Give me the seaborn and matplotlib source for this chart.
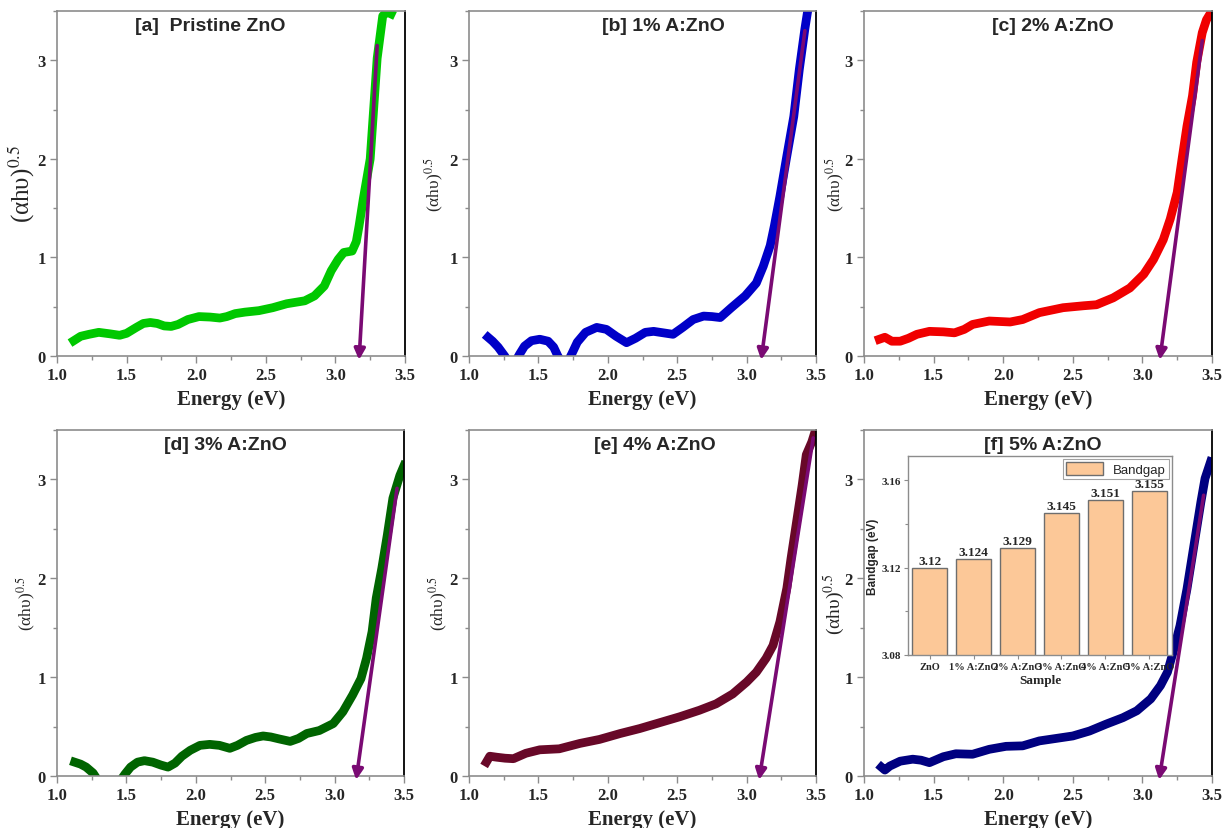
import numpy as np
import pandas as pd
import matplotlib
matplotlib.use("Agg")
import matplotlib.pyplot as plt
import seaborn as sns
from matplotlib.ticker import MultipleLocator

# ---------------- data ----------------
energy_a = [1.12, 1.17, 1.23, 1.3, 1.38, 1.45, 1.5, 1.57, 1.62, 1.67, 1.72, 1.77, 1.82, 1.87,
            1.94, 2.02, 2.1, 2.17, 2.22, 2.28, 2.35, 2.45, 2.55, 2.65, 2.78, 2.85, 2.92, 2.97,
            3.02, 3.06, 3.12, 3.15, 3.17, 3.2, 3.25, 3.3, 3.34, 3.37, 3.4]
tauc_a = [0.155, 0.2, 0.22, 0.24, 0.225, 0.21, 0.23, 0.29, 0.33, 0.34, 0.33, 0.305, 0.30, 0.32,
          0.37, 0.40, 0.395, 0.385, 0.40, 0.43, 0.445, 0.46, 0.49, 0.53, 0.56, 0.61, 0.71, 0.865,
          0.98, 1.05, 1.065, 1.16, 1.32, 1.59, 2.0, 3.02, 3.45, 3.49, 3.47]

energy_b = [1.137, 1.17, 1.21, 1.257, 1.31, 1.365, 1.40, 1.45, 1.51, 1.57, 1.61, 1.64, 1.69,
            1.74, 1.78, 1.84, 1.92, 1.99, 2.06, 2.135, 2.2, 2.27, 2.33, 2.4, 2.47, 2.54, 2.615,
            2.69, 2.75, 2.81, 2.85, 2.89, 2.99, 3.07, 3.12, 3.17, 3.2, 3.24, 3.29, 3.34, 3.38,
            3.42, 3.44]
tauc_b = [0.19, 0.15, 0.09, 0.0, -0.12, 0.02, 0.10, 0.155, 0.17, 0.15, 0.09, 0.0, -0.12,
          0.02, 0.14, 0.24, 0.29, 0.27, 0.20, 0.135, 0.18, 0.24, 0.25, 0.235, 0.22, 0.29, 0.37,
          0.405, 0.40, 0.39, 0.44, 0.49, 0.61, 0.74, 0.91, 1.12, 1.32, 1.62, 2.03, 2.43, 2.91,
          3.32, 3.5]

energy_c = [1.11, 1.15, 1.2, 1.26, 1.32, 1.38, 1.47, 1.57, 1.65, 1.72, 1.78, 1.9, 2.05, 2.14,
            2.26, 2.43, 2.58, 2.67, 2.79, 2.91, 3.01, 3.08, 3.15, 3.2, 3.25, 3.285, 3.32, 3.36,
            3.39, 3.43, 3.46, 3.49]
tauc_c = [0.17, 0.19, 0.15, 0.15, 0.18, 0.22, 0.25, 0.245, 0.235, 0.27, 0.32, 0.355, 0.345, 0.37,
          0.44, 0.49, 0.51, 0.52, 0.59, 0.69, 0.83, 0.98, 1.18, 1.39, 1.66, 2.0, 2.33, 2.64,
          2.98, 3.28, 3.41, 3.48]

energy_d = [1.127, 1.17, 1.21, 1.26, 1.32, 1.4, 1.45, 1.49, 1.53, 1.58, 1.63, 1.69, 1.75, 1.8,
            1.85, 1.9, 1.96, 2.03, 2.1, 2.17, 2.245, 2.3, 2.365, 2.43, 2.485, 2.54, 2.6, 2.68,
            2.74, 2.8, 2.89, 2.99, 3.06, 3.13, 3.19, 3.23, 3.27, 3.3, 3.34, 3.38, 3.42, 3.47, 3.5]
tauc_d = [0.14, 0.12, 0.09, 0.03, -0.1, -0.12, -0.06, 0.02, 0.09, 0.14, 0.155, 0.14, 0.11, 0.09,
          0.13, 0.20, 0.26, 0.31, 0.32, 0.31, 0.28, 0.31, 0.36, 0.39, 0.405, 0.395, 0.375, 0.35,
          0.38, 0.43, 0.46, 0.53, 0.65, 0.82, 0.985, 1.19, 1.46, 1.80, 2.10, 2.44, 2.81, 3.04,
          3.14]

energy_e = [1.125, 1.15, 1.2, 1.26, 1.32, 1.41, 1.51, 1.65, 1.8, 1.94, 2.09, 2.23, 2.375, 2.52,
            2.66, 2.78, 2.9, 3.0, 3.07, 3.14, 3.19, 3.24, 3.29, 3.32, 3.36, 3.4, 3.43, 3.47, 3.49]
tauc_e = [0.14, 0.2, 0.19, 0.18, 0.175, 0.23, 0.265, 0.275, 0.33, 0.37, 0.43, 0.48, 0.54, 0.60,
          0.665, 0.73, 0.83, 0.95, 1.05, 1.19, 1.32, 1.56, 1.90, 2.2, 2.57, 2.94, 3.25, 3.38, 3.47]

energy_f = [1.125, 1.15, 1.185, 1.26, 1.35, 1.41, 1.47, 1.57, 1.66, 1.78, 1.9, 2.02, 2.14, 2.26,
            2.38, 2.5, 2.62, 2.74, 2.86, 2.96, 3.06, 3.13, 3.18, 3.22, 3.27, 3.32, 3.37, 3.42,
            3.45, 3.49]
tauc_f = [0.09, 0.06, 0.1, 0.15, 0.17, 0.16, 0.135, 0.195, 0.225, 0.22, 0.27, 0.30, 0.305, 0.355,
          0.38, 0.405, 0.455, 0.525, 0.59, 0.66, 0.78, 0.915, 1.05, 1.25, 1.52, 1.89, 2.33, 2.77,
          3.01, 3.18]

# tangent (extrapolation) lines: upper point and x-intercept
tangent_top_x = [3.30, 3.42, 3.43, 3.45, 3.48, 3.44]
tangent_top_y = [3.15, 3.30, 3.20, 2.91, 3.42, 2.84]
tangent_end_x = [3.17, 3.105, 3.125, 3.155, 3.09, 3.12]
tangent_end_y = [-0.04, -0.04, -0.04, -0.04, -0.04, -0.04]

titles = ["[a]  Pristine ZnO", "[b] 1% A:ZnO", "[c] 2% A:ZnO",
          "[d] 3% A:ZnO", "[e] 4% A:ZnO", "[f] 5% A:ZnO"]
x_ticks = [1.0, 1.5, 2.0, 2.5, 3.0, 3.5]
y_ticks = [0, 1, 2, 3]

# inset data
samples = ["ZnO", "1% A:ZnO", "2% A:ZnO", "3% A:ZnO", "4% A:ZnO", "5% A:ZnO"]
bandgap = [3.12, 3.124, 3.129, 3.145, 3.151, 3.155]
inset_ticks = [3.08, 3.12, 3.16]

# ---------------- style ----------------
sns.set_style("ticks")
plt.rcParams["font.family"] = ["Liberation Serif", "DejaVu Serif"]
plt.rcParams["mathtext.fontset"] = "stix"

W, H = 1226, 829
fig = plt.figure(figsize=(W / 100, H / 100), dpi=100)
fig.patch.set_facecolor("white")

boxes = [(57, 405, 12, 357), (469, 816, 12, 357), (864, 1212, 12, 357),
         (57, 404, 431, 777), (469, 816, 431, 777), (864, 1212, 431, 777)]
colors = ["#00c800", "#0000c8", "#f00000", "#006400", "#680828", "#000080"]
title_x = [0.44, 0.56, 0.543, 0.484, 0.536, 0.514]
ylab_x = [-0.058, -0.066, -0.05, -0.056, -0.056, -0.05]
ylab_size = [18, 12.5, 12.5, 12.5, 12.5, 14]
purple = "#7a0a73"
gray = "#8c8c8c"

energies = [energy_a, energy_b, energy_c, energy_d, energy_e, energy_f]
taucs = [tauc_a, tauc_b, tauc_c, tauc_d, tauc_e, tauc_f]

for i, (l, r, t, b) in enumerate(boxes):
    ax = fig.add_axes([l / W, 1 - b / H, (r - l) / W, (b - t) / H])
    df = pd.DataFrame({"E": energies[i], "T": taucs[i]})
    sns.lineplot(data=df, x="E", y="T", ax=ax, color=colors[i], linewidth=6.3,
                 sort=False, estimator=None, legend=False,
                 solid_capstyle="projecting", solid_joinstyle="round")
    ax.annotate("", xy=(tangent_end_x[i], tangent_end_y[i]),
                xytext=(tangent_top_x[i], tangent_top_y[i]),
                arrowprops=dict(arrowstyle="-|>", color=purple, lw=2.6,
                                mutation_scale=16, shrinkA=0, shrinkB=0),
                annotation_clip=False, zorder=5)
    ax.set_xlim(1.0, 3.5)
    ax.set_ylim(0, 3.5)
    ax.set_xticks(x_ticks)
    ax.set_xticklabels([f"{v:.1f}" for v in x_ticks], fontsize=12, fontweight="bold")
    ax.set_yticks(y_ticks)
    ax.set_yticklabels([str(v) for v in y_ticks], fontsize=12, fontweight="bold")
    ax.xaxis.set_minor_locator(MultipleLocator(0.25))
    ax.yaxis.set_minor_locator(MultipleLocator(0.5))
    ax.tick_params(which="major", direction="out", length=5, width=1, color=gray, pad=3)
    ax.tick_params(which="minor", direction="out", length=3, width=1, color=gray)
    for s in ["left", "bottom", "top"]:
        ax.spines[s].set_color(gray)
        ax.spines[s].set_linewidth(1.2)
    ax.spines["right"].set_color("black")
    ax.spines["right"].set_linewidth(1.3)
    ax.set_xlabel("Energy (eV)", fontsize=15, fontweight="bold")
    ax.xaxis.set_label_coords(0.5, -0.095)
    ax.set_ylabel(r"(αhυ)$^{0.5}$", fontsize=ylab_size[i])
    ax.yaxis.set_label_coords(ylab_x[i], 0.5)
    ax.text(title_x[i], 0.957, titles[i], transform=ax.transAxes, ha="center", va="center",
            fontsize=14, fontweight="bold", family=["Liberation Sans", "DejaVu Sans"])

# ---------------- inset ----------------
il, ir, it, ib = 908, 1172, 457, 656
axin = fig.add_axes([il / W, 1 - ib / H, (ir - il) / W, (ib - it) / H])
axin.set_facecolor("white")
sns.barplot(x=samples, y=bandgap, ax=axin, color="#fcc898", edgecolor="#6e6e6e",
            linewidth=1.0, width=0.8, saturation=1, label="Bandgap")
axin.set_ylim(3.08, 3.171)
axin.set_xlim(-0.5, 5.52)
axin.set_yticks(inset_ticks)
axin.set_yticklabels([f"{v:.2f}" for v in inset_ticks], fontsize=8, fontweight="bold")
axin.yaxis.set_minor_locator(MultipleLocator(0.02))
axin.set_xticks(range(len(samples)))
axin.set_xticklabels(samples, fontsize=7.5, fontweight="bold")
axin.tick_params(which="both", direction="out", color=gray, width=0.8)
axin.tick_params(which="major", length=3, pad=2)
axin.tick_params(which="minor", length=2)
axin.bar_label(axin.containers[0], labels=[f"{v:g}" for v in bandgap],
               fontsize=9.5, fontweight="bold", padding=0.5)
axin.set_xlabel("Sample", fontsize=9.5, fontweight="bold", labelpad=2)
axin.set_ylabel("Bandgap (eV)", fontsize=8.5, fontweight="bold",
                family=["Liberation Sans", "DejaVu Sans"], labelpad=2)
for s in axin.spines.values():
    s.set_color(gray)
    s.set_linewidth(1.0)
leg = axin.legend(loc="upper right", frameon=True, fancybox=False,
                  borderpad=0.25, handlelength=2.8, handleheight=1.2, borderaxespad=0.2,
                  prop={"family": ["Liberation Sans", "DejaVu Sans"], "size": 9.5})
leg.get_frame().set_edgecolor(gray)
leg.get_frame().set_linewidth(0.8)

fig.savefig("out.png", dpi=100, facecolor="white")
